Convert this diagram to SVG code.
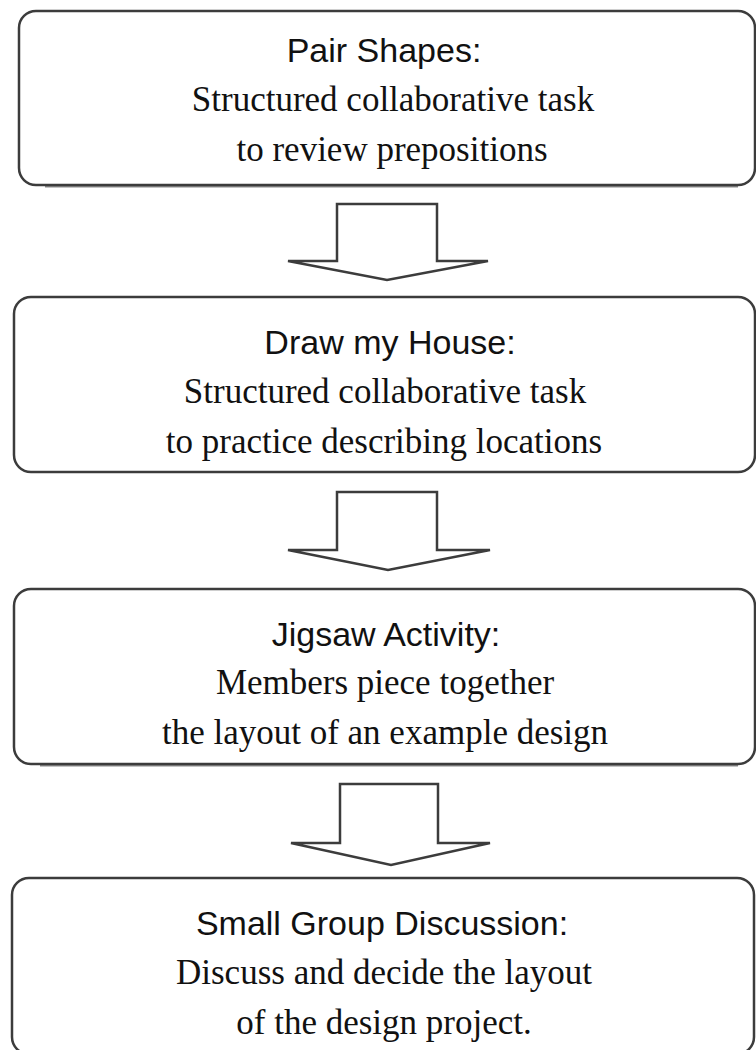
<svg xmlns="http://www.w3.org/2000/svg" width="756" height="1050" viewBox="0 0 756 1050">
<style>
.box{fill:#fff;stroke:#3c3c3c;stroke-width:2.5}
.shadow{fill:none;stroke:#8a8a8a;stroke-width:3}
.arrow{fill:#fff;stroke:#3c3c3c;stroke-width:2.5;stroke-linejoin:miter}
.t{font-family:"Liberation Sans",Arial,sans-serif;font-size:34px;fill:#111;text-anchor:middle}
.b{font-family:"Liberation Serif","Times New Roman",serif;font-size:35px;fill:#111;text-anchor:middle}
</style>
<rect width="756" height="1050" fill="#fff"/>
<g id="connectors">
<path class="arrow" d="M337,204 H437 V261 H488 L387,280 L288,261 H337 Z"/>
<path class="arrow" d="M337,492 H437 V550 H490 L388,570 L288,550 H337 Z"/>
<path class="arrow" d="M340,784 H438 V843 H490 L391,865 L291,843 H340 Z"/>
</g>
<g id="node1">
<line class="shadow" x1="45" y1="186" x2="738" y2="186"/>
<rect class="box" x="19" y="11" width="736" height="174" rx="17"/>
<text class="t" x="384" y="62">Pair Shapes:</text>
<text class="b" x="393" y="111">Structured collaborative task</text>
<text class="b" x="392" y="161">to review prepositions</text>
</g>
<g id="node2">
<rect class="box" x="14" y="297" width="741" height="175" rx="17"/>
<text class="t" x="390" y="354">Draw my House:</text>
<text class="b" x="385" y="403">Structured collaborative task</text>
<text class="b" x="384" y="453">to practice describing locations</text>
</g>
<g id="node3">
<line class="shadow" x1="40" y1="765" x2="738" y2="765"/>
<rect class="box" x="14" y="589" width="741" height="175" rx="17"/>
<text class="t" x="386" y="646">Jigsaw Activity:</text>
<text class="b" x="385" y="694">Members piece together</text>
<text class="b" x="385" y="744">the layout of an example design</text>
</g>
<g id="node4">
<rect class="box" x="12" y="878" width="742" height="176" rx="17"/>
<text class="t" x="382" y="935">Small Group Discussion:</text>
<text class="b" x="384" y="984">Discuss and decide the layout</text>
<text class="b" x="384" y="1034">of the design project.</text>
</g>
</svg>
